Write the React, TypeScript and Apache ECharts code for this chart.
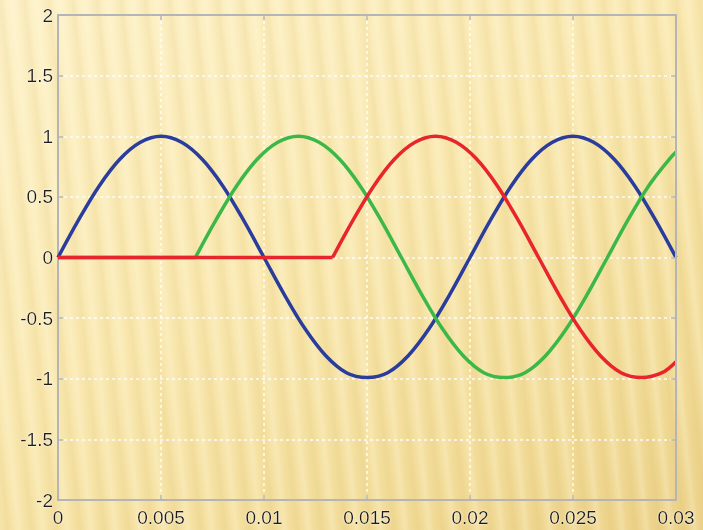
import React, { useEffect, useRef } from "react";
import * as echarts from "echarts";

// Phase A (blue)
const tBlue = [0, 0.001, 0.002, 0.003, 0.004, 0.005, 0.006, 0.007, 0.008, 0.009, 0.01, 0.011, 0.012, 0.013, 0.014, 0.015, 0.016, 0.017, 0.018, 0.019, 0.02, 0.021, 0.022, 0.023, 0.024, 0.025, 0.026, 0.027, 0.028, 0.029, 0.03];
const vBlue = [0, 0.31, 0.59, 0.81, 0.95, 1, 0.95, 0.81, 0.59, 0.31, 0, -0.31, -0.59, -0.81, -0.95, -0.99, -0.95, -0.81, -0.59, -0.31, 0, 0.31, 0.59, 0.81, 0.95, 1, 0.95, 0.81, 0.59, 0.31, 0];

// Phase B (green): zero until ~0.00667, then the wave
const tGreen = [0.00667, 0.00767, 0.00867, 0.00967, 0.01067, 0.01167, 0.01267, 0.01367, 0.01467, 0.01567, 0.01667, 0.01767, 0.01867, 0.01967, 0.02067, 0.02167, 0.02267, 0.02367, 0.02467, 0.02567, 0.02667, 0.02767, 0.02867, 0.02967, 0.03];
const vGreen = [0, 0.31, 0.59, 0.81, 0.95, 1, 0.95, 0.81, 0.59, 0.31, 0, -0.31, -0.59, -0.81, -0.95, -0.99, -0.95, -0.81, -0.59, -0.31, 0, 0.31, 0.59, 0.81, 0.87];

// Phase C (red): zero until ~0.01333, then the wave
const tRed = [0.01333, 0.01433, 0.01533, 0.01633, 0.01733, 0.01833, 0.01933, 0.02033, 0.02133, 0.02233, 0.02333, 0.02433, 0.02533, 0.02633, 0.02733, 0.02833, 0.02933, 0.03];
const vRed = [0, 0.31, 0.59, 0.81, 0.95, 1, 0.95, 0.81, 0.59, 0.31, 0, -0.31, -0.59, -0.81, -0.95, -0.99, -0.95, -0.86];

const xTickLabels = ["0", "0.005", "0.01", "0.015", "0.02", "0.025", "0.03"];
const yTickLabels = ["-2", "-1.5", "-1", "-0.5", "0", "0.5", "1", "1.5", "2"];

const pairs = (t: number[], v: number[]) => t.map((x, i) => [x, v[i]]);

export default function App() {
  const ref = useRef<HTMLDivElement>(null);
  useEffect(() => {
    if (!ref.current) return;
    const chart = echarts.init(ref.current, undefined, { renderer: "svg" });
    const frame = "#b5b5b5";
    const labelStyle = {
      color: "#1c1c1c",
      fontSize: 19,
      fontFamily: "Liberation Sans, Arial, sans-serif",
      textShadowColor: "rgba(255,255,255,0.9)",
      textShadowBlur: 2,
    };
    const splitLine = {
      show: true,
      lineStyle: { color: "rgba(255,255,255,0.9)", width: 1.5, type: [3, 3] as any },
    };
    const tick = { show: true, inside: true, length: 5, lineStyle: { color: frame, width: 1.5 } };
    const blue = "#2a3d9c";
    const green = "#3cb848";
    const red = "#e8252c";
    const mk = (data: number[][], color: string, z: number, smooth: number | boolean) => ({
      type: "line",
      data,
      smooth,
      showSymbol: false,
      lineStyle: { color, width: 3.5 },
      z,
    });
    chart.setOption({
      animation: false,
      backgroundColor: "transparent",
      grid: { left: 58, right: 27, top: 15, bottom: 30, show: false },
      xAxis: [
        {
          type: "value",
          min: 0,
          max: 0.03,
          interval: 0.005,
          axisLine: { show: true, onZero: false, lineStyle: { color: frame, width: 2 } },
          axisTick: tick,
          axisLabel: {
            ...labelStyle,
            margin: 8,
            formatter: (v: number) => xTickLabels[Math.round(v / 0.005)] ?? "",
          },
          splitLine,
        },
        {
          type: "value",
          position: "top",
          min: 0,
          max: 0.03,
          interval: 0.005,
          z: 5,
          axisLine: { show: true, onZero: false, lineStyle: { color: frame, width: 2 } },
          axisTick: tick,
          axisLabel: { show: false },
          splitLine: { show: false },
        },
      ],
      yAxis: [
        {
          type: "value",
          min: -2,
          max: 2,
          interval: 0.5,
          axisLine: { show: true, onZero: false, lineStyle: { color: frame, width: 2 } },
          axisTick: tick,
          axisLabel: {
            ...labelStyle,
            margin: 5,
            formatter: (v: number) => yTickLabels[Math.round((v + 2) / 0.5)] ?? "",
          },
          splitLine,
        },
        {
          type: "value",
          position: "right",
          min: -2,
          max: 2,
          interval: 0.5,
          z: 5,
          axisLine: { show: true, onZero: false, lineStyle: { color: frame, width: 2 } },
          axisTick: tick,
          axisLabel: { show: false },
          splitLine: { show: false },
        },
      ],
      series: [
        mk(pairs(tBlue, vBlue), blue, 2, 0.35),
        mk([[0, 0], [tGreen[0], vGreen[0]]], green, 3, false),
        mk(pairs(tGreen, vGreen), green, 3, 0.35),
        mk([[0, 0], [tRed[0], vRed[0]]], red, 4, false),
        mk(pairs(tRed, vRed), red, 4, 0.35),
      ],
    });
    return () => chart.dispose();
  }, []);

  const bg =
    "repeating-linear-gradient(84deg, rgba(255,255,255,0) 0px, rgba(200,160,60,0.10) 8px, rgba(255,255,255,0) 13px, rgba(255,252,230,0.25) 19px, rgba(255,255,255,0) 24px), " +
    "linear-gradient(150deg, #fdf1c8 0%, #f9e8b0 45%, #f2dc99 80%, #ecd28a 100%)";

  return (
    <div
      style={{
        position: "absolute",
        left: 0,
        top: 0,
        width: 703,
        height: 530,
        background: bg,
      }}
    >
      <div ref={ref} style={{ width: 703, height: 530 }} />
    </div>
  );
}
